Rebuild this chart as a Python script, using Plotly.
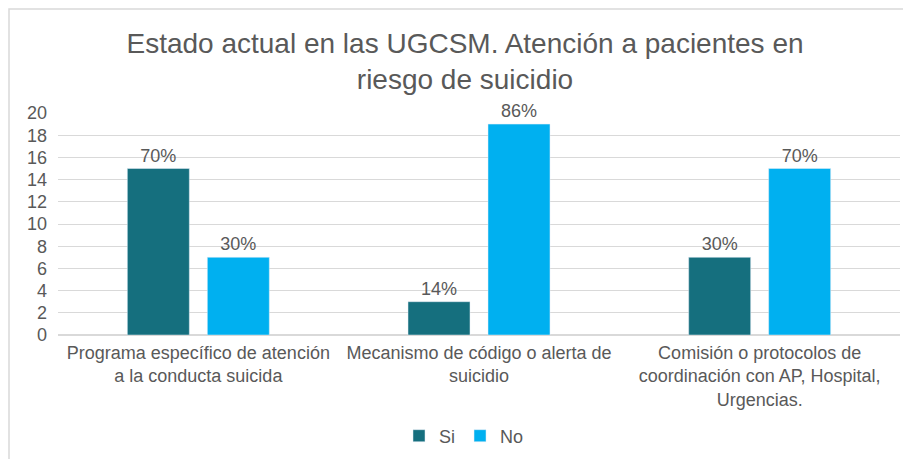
import plotly.graph_objects as go

categories = [
    "Programa específico de atención<br>a la conducta suicida",
    "Mecanismo de código o alerta de<br>suicidio",
    "Comisión o protocolos de<br>coordinación con AP, Hospital,<br>Urgencias.",
]
si_values = [15, 3, 7]
no_values = [7, 19, 15]
si_labels = ["70%", "14%", "30%"]
no_labels = ["30%", "86%", "70%"]
y_ticks = list(range(0, 21, 2))

W, H = 911, 459
ml, mr, mt, mb = 50, 19, 105, 132
pw, ph = W - ml - mr, H - mt - mb

grey = "#595959"
font = "Liberation Sans, Arial, sans-serif"

fig = go.Figure()
fig.add_trace(go.Bar(name="Si", x=categories, y=si_values, text=si_labels,
                     textposition="outside", marker_color="#156F7E",
                     textfont=dict(size=18, color=grey), cliponaxis=False))
fig.add_trace(go.Bar(name="No", x=categories, y=no_values, text=no_labels,
                     textposition="outside", marker_color="#00B0F0",
                     textfont=dict(size=18, color=grey), cliponaxis=False))

fig.update_layout(
    width=W, height=H,
    margin=dict(l=ml, r=mr, t=mt, b=mb, autoexpand=False),
    paper_bgcolor="white", plot_bgcolor="white",
    font=dict(family=font, color=grey, size=18),
    barmode="group", bargap=0.43, bargroupgap=0.225,
    title=dict(text="Estado actual en las UGCSM. Atención a pacientes en<br>riesgo de suicidio",
               x=(457 - ml) / pw, xref="paper", xanchor="center",
               y=1 - 45 / H, yref="container", yanchor="middle",
               font=dict(size=28, color=grey, family=font)),
    showlegend=True,
    legend=dict(orientation="h", x=(456 - ml) / pw, xanchor="center",
                y=(ph - (428 - mt)) / ph, yanchor="middle",
                font=dict(size=18, color=grey), itemwidth=30,
                traceorder="normal"),
    xaxis=dict(showgrid=False, showline=False, ticks="", ticklabelstandoff=5,
               tickfont=dict(size=18, color=grey)),
    yaxis=dict(range=[0, 20], tickvals=y_ticks, showgrid=True, gridcolor="#D9D9D9",
               gridwidth=1, zeroline=True, zerolinecolor="#D9D9D9", showline=False,
               ticks="", ticklabelstandoff=10, tickfont=dict(size=18, color=grey)),
    shapes=[dict(type="rect", xref="paper", yref="paper",
                 x0=(1 - ml) / pw, x1=1.2, y0=-1, y1=(ph + mt - 1) / ph,
                 line=dict(color="#D9D9D9", width=1.5), fillcolor="rgba(0,0,0,0)",
                 layer="below")],
)

fig.write_html("out.html")
